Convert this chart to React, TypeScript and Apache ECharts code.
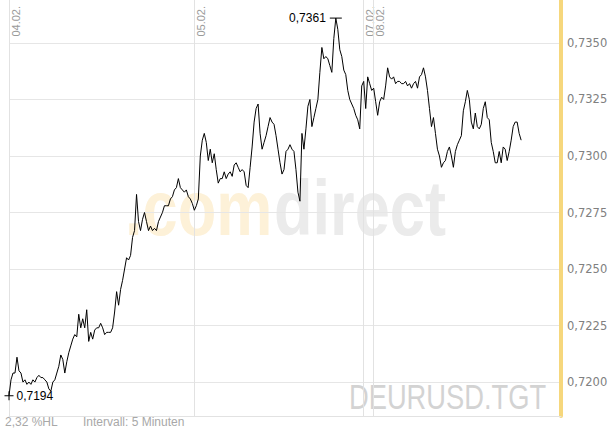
import * as echarts from "echarts";
import { useEffect, useRef } from "react";

// day separators on the compressed intraday axis (5-minute bars)
const dayLabels = ["04.02.", "05.02.", "07.02.", "08.02."];
const dayStarts = [0, 93, 178, 183];
const slotCount = 278;

const prices = [
	0.7194, 0.7201, 0.7204, 0.7204, 0.7211, 0.7205, 0.7204, 0.72, 0.7201, 0.7199,
	0.72, 0.7199, 0.7201, 0.72, 0.7202, 0.7203, 0.7202, 0.7202, 0.7201, 0.72,
	0.7197, 0.7196, 0.72, 0.7201, 0.7204, 0.7207, 0.7212, 0.721, 0.7204, 0.7209,
	0.7213, 0.7216, 0.7219, 0.7221, 0.722, 0.723, 0.7224, 0.7228, 0.7224, 0.7232,
	0.7218, 0.7222, 0.7219, 0.7223, 0.7224, 0.7224, 0.7226, 0.7224, 0.7221, 0.7222,
	0.7222, 0.7222, 0.7224, 0.7231, 0.724, 0.7234, 0.7241, 0.7245, 0.725, 0.7255,
	0.7254, 0.7256, 0.7264, 0.7267, 0.7283, 0.7271, 0.7267, 0.7272, 0.7275, 0.7271,
	0.7267, 0.7269, 0.7267, 0.7268, 0.7267, 0.7271, 0.7273, 0.7275, 0.7278, 0.7278,
	0.7278, 0.7281, 0.7282, 0.7285, 0.7286, 0.729, 0.7286, 0.7285, 0.7284, 0.7285,
	0.7282, 0.7281, 0.7279, 0.7276, 0.7278, 0.7281, 0.73, 0.7307, 0.731, 0.7306,
	0.7298, 0.7303, 0.7297, 0.7301, 0.7294, 0.7288, 0.729, 0.729, 0.7293, 0.729,
	0.7292, 0.7293, 0.7291, 0.7296, 0.7297, 0.7295, 0.7293, 0.7294, 0.7293, 0.7287,
	0.7286, 0.7295, 0.7304, 0.7315, 0.7321, 0.7323, 0.731, 0.7303, 0.7306, 0.7309,
	0.7313, 0.7317, 0.7315, 0.7314, 0.7309, 0.7303, 0.7297, 0.7292, 0.7294, 0.7302,
	0.7303, 0.7305, 0.7303, 0.7302, 0.7294, 0.7284, 0.728, 0.731, 0.7303, 0.7312,
	0.7322, 0.7325, 0.7313, 0.7317, 0.7321, 0.7325, 0.7337, 0.7348, 0.7343, 0.7344,
	0.7343, 0.734, 0.7337, 0.7352, 0.7361, 0.7356, 0.7347, 0.7344, 0.7338, 0.7336,
	0.7329, 0.7325, 0.7323, 0.7321, 0.7318, 0.7316, 0.7312, 0.7331, 0.7333, 0.7321,
	0.7335, 0.7332, 0.7329, 0.733, 0.7324, 0.7318, 0.7324, 0.7326, 0.7325, 0.7331,
	0.7339, 0.7335, 0.7334, 0.7335, 0.7332, 0.7333, 0.7333, 0.7332, 0.7332, 0.7333,
	0.7331, 0.7332, 0.733, 0.7332, 0.7333, 0.733, 0.7335, 0.7336, 0.7339, 0.7335,
	0.7329, 0.7321, 0.7313, 0.7317, 0.731, 0.7303, 0.73, 0.7295, 0.7297, 0.7298,
	0.7302, 0.7304, 0.73, 0.7295, 0.7302, 0.7305, 0.7307, 0.7309, 0.732, 0.7324,
	0.7329, 0.7325, 0.7315, 0.7312, 0.7319, 0.7313, 0.7312, 0.7314, 0.7321, 0.7324,
	0.7317, 0.7316, 0.7306, 0.7302, 0.7297, 0.7297, 0.7302, 0.7297, 0.7304, 0.7303,
	0.7298, 0.7302, 0.7307, 0.7313, 0.7315, 0.7315, 0.731, 0.7307,
];

const categories = Array.from({ length: slotCount }, (_, i) => String(i));
const rangeText = "2,32 %HL";
const intervalText = "Intervall: 5 Minuten";
const symbolText = "DEURUSD.TGT";

const fmt = (v: number) => v.toFixed(4).replace(".", ",");
const isDayStart = (i: number) => dayStarts.indexOf(i) >= 0;
const FONT = "'Liberation Sans', Arial, sans-serif";

export default function App() {
	const chartRef = useRef<HTMLDivElement>(null);

	useEffect(() => {
		if (!chartRef.current) return;
		const chart = echarts.init(chartRef.current, null, { renderer: "svg" });

		const baseGraphics = [
			{
				type: "text",
				x: 125,
				y: 208,
				scaleX: 0.82,
				z: -1,
				style: { text: ".com", fill: "#fdf1d8", fontSize: 77, fontWeight: "bold", fontFamily: FONT, verticalAlign: "middle" },
			},
			{
				type: "text",
				x: 274,
				y: 208,
				scaleX: 0.82,
				z: -1,
				style: { text: "direct", fill: "#ebebeb", fontSize: 77, fontWeight: "bold", fontFamily: FONT, verticalAlign: "middle" },
			},
			{
				type: "text",
				x: 349,
				y: 397,
				scaleX: 0.78,
				z: -1,
				style: { text: symbolText, fill: "#d3d3d3", fontSize: 35, fontFamily: FONT, verticalAlign: "middle" },
			},
			{
				type: "text",
				x: 5,
				y: 422,
				style: { text: rangeText, fill: "#a8a8a8", fontSize: 12, fontFamily: FONT, verticalAlign: "middle" },
			},
			{
				type: "text",
				x: 83,
				y: 422,
				style: { text: intervalText, fill: "#a8a8a8", fontSize: 12, fontFamily: FONT, verticalAlign: "middle" },
			},
		];

		chart.setOption({
			animation: false,
			textStyle: { fontFamily: FONT },
			grid: { left: 9, right: 54, top: 0, bottom: 15, containLabel: false, outerBoundsMode: "none" },
			xAxis: {
				type: "category",
				data: categories,
				boundaryGap: false,
				axisLine: { lineStyle: { color: "#e2e2e2" } },
				axisTick: { show: false },
				axisLabel: { show: false },
				splitLine: {
					show: true,
					interval: (i: number) => isDayStart(i),
					lineStyle: { color: "#e2e2e2" },
				},
			},
			yAxis: {
				type: "value",
				position: "right",
				min: 0.7185,
				max: 0.7369,
				minInterval: 0.0025,
				maxInterval: 0.0025,
				splitNumber: 7,
				axisLine: { show: true, lineStyle: { color: "#f6d77c", width: 4 } },
				axisTick: { show: false },
				axisLabel: {
					margin: 6,
					color: "#808080",
					fontSize: 11.5,
					fontFamily: "'DejaVu Sans', sans-serif",
					formatter: fmt,
					showMinLabel: false,
					showMaxLabel: false,
				},
				splitLine: {
					lineStyle: { color: "#e6e6e6" },
					showMinLine: false,
					showMaxLine: false,
				},
			},
			graphic: baseGraphics,
			series: [
				{
					type: "line",
					data: prices,
					symbol: "none",
					lineStyle: { color: "#000", width: 1 },
					itemStyle: { color: "#000" },
					emphasis: { disabled: true },
					markPoint: {
						symbol: "rect",
						itemStyle: { color: "#000" },
						label: {
							color: "#000",
							fontSize: 12,
							formatter: (p: any) => fmt(Number(p.value)),
						},
						data: [
							{ type: "max", symbolSize: [12, 1], label: { position: "left", distance: 4 } },
							{
								type: "min",
								symbol: "path://M0,4H4V0H5V4H9V5H5V9H4V5H0Z",
								symbolSize: [9, 9],
								label: { position: "right", distance: 3 },
							},
						],
					},
				},
			],
		});

		// rotated day labels next to each day separator
		const dayGraphics = dayStarts.map((idx, k) => {
			const px = chart.convertToPixel({ xAxisIndex: 0 }, idx) as number;
			return {
				type: "text",
				x: px + 1,
				y: 6,
				rotation: Math.PI / 2,
				style: {
					text: dayLabels[k],
					fill: "#9a9a9a",
					fontSize: 11,
					fontFamily: FONT,
					align: "right",
					verticalAlign: "top",
				},
			};
		});
		chart.setOption({ graphic: [...baseGraphics, ...dayGraphics] });

		return () => chart.dispose();
	}, []);

	return (
		<div
			ref={chartRef}
			style={{ position: "absolute", left: 0, top: 0, width: 615, height: 431 }}
		/>
	);
}
